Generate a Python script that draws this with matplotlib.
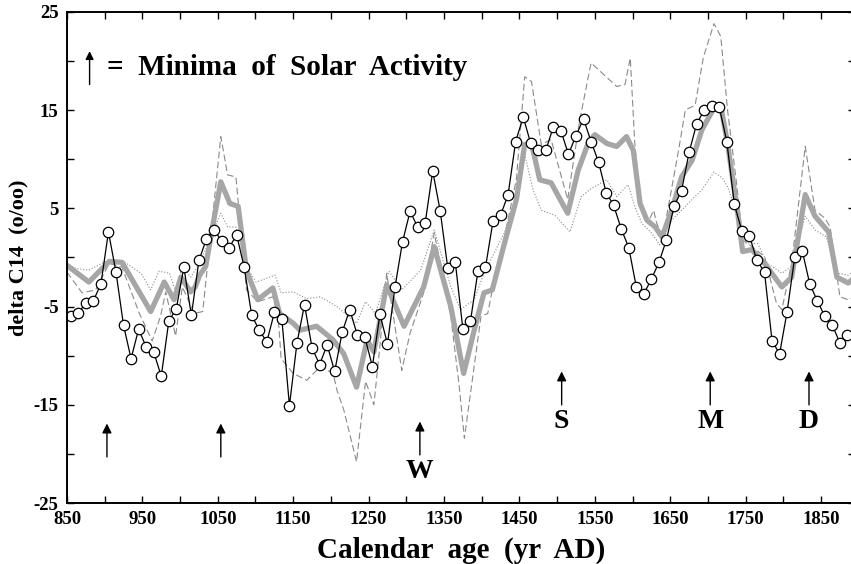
import numpy as np
import matplotlib.pyplot as plt
from matplotlib.ticker import MultipleLocator

plt.rcParams['font.family'] = ['Liberation Serif', 'DejaVu Serif']
plt.rcParams['font.weight'] = 'bold'
plt.rcParams['axes.unicode_minus'] = False

# measured delta C14 (decadal)
years = np.arange(855, 1886, 10)
measured = [-6.0, -5.7, -4.6, -4.4, -2.7, 2.6, -1.5, -6.9, -10.3, -7.3,
            -9.1, -9.6, -12.1, -6.5, -5.2, -1.0, -5.9, -0.3, 1.9, 2.8,
            1.7, 1.0, 2.3, -1.0, -5.9, -7.4, -8.6, -5.6, -6.3, -15.1,
            -8.7, -4.8, -9.2, -10.9, -8.9, -11.6, -7.6, -5.3, -7.9, -8.1,
            -11.1, -5.8, -8.8, -3.0, 1.6, 4.7, 3.1, 3.5, 8.8, 4.7,
            -1.1, -0.5, -7.3, -6.5, -1.4, -1.0, 3.7, 4.3, 6.4, 11.8,
            14.3, 11.6, 10.9, 10.9, 13.3, 12.9, 10.5, 12.4, 14.1, 11.8,
            9.7, 6.6, 5.3, 2.9, 1.0, -3.0, -3.7, -2.2, -0.5, 1.8,
            5.2, 6.8, 10.7, 13.6, 15.0, 15.4, 15.3, 11.8, 5.4, 2.7,
            2.2, -0.3, -1.5, -8.5, -9.8, -5.5, 0.0, 0.7, -2.7, -4.4,
            -6.0, -6.9, -8.7, -7.9]

# model curve (thick grey)
mod_x = [850, 879, 906, 923, 961, 979, 992, 1001, 1014, 1020, 1026, 1034, 1043,
         1054, 1066, 1077, 1088, 1103, 1123, 1132, 1150, 1159, 1181, 1203,
         1217, 1234, 1248, 1257, 1274, 1297, 1323, 1337, 1359, 1376, 1390,
         1403, 1414, 1430, 1446, 1457, 1466, 1477, 1492, 1514, 1528, 1541,
         1550, 1566, 1579, 1592, 1601, 1610, 1619, 1630, 1639, 1652, 1665,
         1679, 1692, 1708, 1718, 1726, 1740, 1746, 1758, 1775, 1798, 1811,
         1829, 1842, 1860, 1871, 1886, 1895]
mod_y = [-0.8, -2.5, -0.4, -0.5, -5.5, -2.5, -4.3, -2.0, -3.5, -3.0, -1.8, -0.9, 3.1,
         7.7, 5.5, 5.2, -1.3, -4.3, -3.1, -5.7, -6.7, -7.4, -7.0, -8.4,
         -9.8, -13.2, -8.4, -9.6, -2.8, -7.0, -3.0, 1.1, -5.0, -11.8, -7.4,
         -3.6, -3.3, 1.4, 5.9, 11.5, 11.6, 7.9, 7.6, 4.5, 8.9, 11.6,
         12.5, 11.6, 11.3, 12.3, 10.9, 5.5, 3.8, 3.1, 2.1, 4.8, 8.2,
         9.9, 13.0, 15.2, 15.0, 11.6, 4.2, 0.6, 0.8, -0.6, -3.0, -2.0,
         6.4, 4.2, 2.6, -2.0, -2.6, -2.0]

# high-amplitude curve (dashed)
hi_x = [850, 870, 888, 906, 923, 946, 963, 974, 981, 994, 1003, 1019, 1030, 1043,
        1054, 1063, 1074, 1088, 1103, 1123, 1130, 1134, 1150, 1168, 1186, 1203,
        1208, 1217, 1234, 1246, 1257, 1265, 1274, 1294, 1305, 1323, 1337, 1359,
        1370, 1377, 1399, 1408, 1414, 1430, 1446, 1457, 1466, 1479, 1492, 1514,
        1530, 1545, 1579, 1590, 1597, 1603, 1610, 1620, 1628, 1632, 1640, 1661,
        1670, 1683, 1694, 1708, 1717, 1726, 1738, 1746, 1760, 1775, 1791, 1798,
        1811, 1829, 1842, 1855, 1862, 1875, 1886, 1895]
hi_y = [-1.5, -3.6, -3.3, -0.6, -1.0, -5.7, -8.5, -6.0, -3.5, -8.0, -3.0, -5.7, -5.5, 4.0,
        12.3, 8.4, 8.2, -3.3, -4.5, -4.0, -6.0, -10.3, -11.8, -12.5, -11.1, -11.8,
        -13.5, -15.5, -20.8, -12.6, -15.0, -9.0, -1.6, -11.5, -7.7, -3.6, 2.5, -6.0,
        -13.0, -18.4, -6.0, -5.7, -3.3, 2.0, 8.0, 18.4, 17.9, 11.5, 12.0, 5.9,
        14.0, 19.8, 17.4, 17.6, 20.3, 11.6, 5.5, 3.5, 4.8, 3.5, 2.0, 10.9,
        15.0, 15.5, 20.4, 23.8, 22.5, 15.0, 7.5, 1.8, 1.0, 0.1, -4.7, -5.3,
        -0.6, 11.3, 4.8, 4.0, 3.1, -4.0, -4.3, -4.0]

# low-amplitude curve (dotted)
lo_x = [850, 861, 879, 901, 923, 948, 961, 972, 986, 994, 1003, 1014, 1026, 1043,
        1054, 1063, 1074, 1088, 1101, 1126, 1134, 1150, 1168, 1186, 1208, 1234,
        1246, 1259, 1277, 1294, 1319, 1337, 1359, 1372, 1390, 1403, 1430, 1446,
        1457, 1468, 1479, 1497, 1517, 1532, 1545, 1566, 1579, 1594, 1603, 1612,
        1625, 1636, 1648, 1665, 1679, 1692, 1708, 1719, 1726, 1740, 1746, 1766,
        1779, 1798, 1811, 1829, 1842, 1857, 1871, 1886, 1895]
lo_y = [-0.6, -1.1, -1.3, -0.4, -0.3, -1.6, -3.3, -1.4, -1.6, -3.5, -0.9, -2.0, -0.6, 2.5,
        4.5, 3.1, 3.1, -1.0, -2.5, -1.8, -3.6, -3.5, -4.2, -4.0, -5.0, -6.7,
        -4.5, -5.7, -1.4, -3.3, -1.3, 2.8, -3.0, -5.3, -4.3, -1.6, 2.5, 6.5,
        10.5, 6.9, 4.8, 4.3, 2.6, 6.2, 7.0, 7.9, 6.2, 7.4, 5.2, 3.5,
        2.5, 1.3, 3.5, 4.8, 5.9, 6.9, 8.7, 8.1, 7.2, 4.2, 1.5, 1.4,
        -0.6, -1.6, -0.9, 4.2, 2.8, 2.1, -1.6, -1.8, -1.3]

# solar minima markers
minima_x = [903, 1054, 1318, 1506, 1703, 1834]
minima_lab = ['', '', 'W', 'S', 'M', 'D']
minima_tip = [-16.9, -16.9, -16.7, -11.6, -11.6, -11.6]

fig = plt.figure(figsize=(8.51, 5.64), dpi=100)
ax = fig.add_axes([0.0787, 0.108, 0.926, 0.871])

ax.plot(hi_x, hi_y, color='#8a8a8a', lw=0.8, dashes=(6, 3))
ax.plot(lo_x, lo_y, color='#8a8a8a', lw=0.8, ls=':')
ax.plot(mod_x, mod_y, color='#a6a6a6', lw=3.8, solid_joinstyle='round')
ax.plot(years, measured, color='black', lw=0.9, marker='o', ms=7.5,
        mfc='white', mec='black', mew=0.9)

for x, lab, tip in zip(minima_x, minima_lab, minima_tip):
    ax.annotate('', xy=(x, tip), xytext=(x, tip - 3.4),
                arrowprops=dict(arrowstyle='-|>', color='black', lw=1.0,
                                mutation_scale=14, shrinkA=0, shrinkB=0))
    if lab:
        ax.text(x, tip - 5.1, lab, ha='center', va='center', fontsize=20,
                fontweight='bold')

# legend-like note
ax.annotate('', xy=(880, 21.0), xytext=(880, 17.6),
            arrowprops=dict(arrowstyle='-|>', color='black', lw=1.0,
                            mutation_scale=12, shrinkA=0, shrinkB=0))
ax.text(903, 19.3, '=  Minima  of  Solar  Activity', ha='left', va='center',
        fontsize=21, fontweight='bold')

ax.set_xlim(850, 1895)
ax.set_ylim(-25, 25)
ax.xaxis.set_minor_locator(MultipleLocator(50))
ax.yaxis.set_minor_locator(MultipleLocator(5))
ax.set_yticks(np.arange(-25, 26, 10))
ax.set_xticks(np.arange(850, 1851, 100))
ax.tick_params(which='both', direction='in', top=True, right=True, length=5,
               width=1.0, labelsize=13.5, pad=6)
for lab in ax.get_xticklabels() + ax.get_yticklabels():
    lab.set_fontweight('bold')
for s in ax.spines.values():
    s.set_linewidth(1.4)

ax.set_xlabel('Calendar  age  (yr  AD)', fontsize=21, fontweight='bold', labelpad=6)
ax.set_ylabel('delta C14  (o/oo)', fontsize=16, fontweight='bold', labelpad=4)

fig.savefig('out.png', dpi=100)
